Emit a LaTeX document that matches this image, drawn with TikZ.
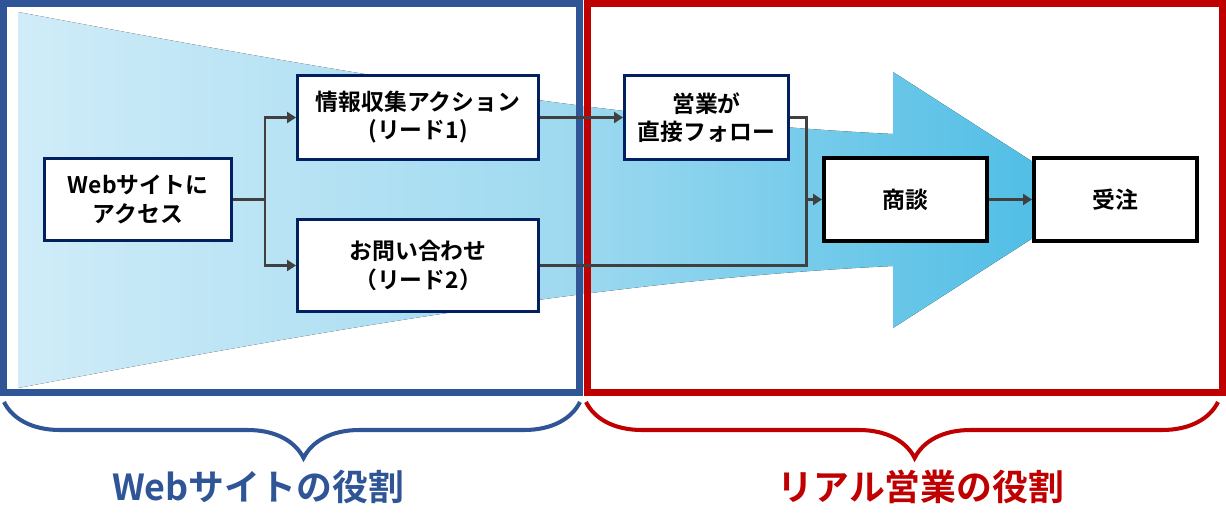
\documentclass[tikz,border=0pt]{standalone}
\usepackage{fontspec}
\setmainfont{Noto Sans CJK JP}[BoldFont={Noto Sans CJK JP Bold}]
\usetikzlibrary{arrows.meta,decorations.pathreplacing}
\definecolor{bleuweb}{RGB}{47,85,151}
\definecolor{rougevente}{RGB}{192,0,0}
\definecolor{marine}{RGB}{0,32,96}
\definecolor{gris}{RGB}{64,64,64}
\definecolor{ciel}{RGB}{208,236,248}
\definecolor{cielmoyen}{RGB}{160,218,240}
\definecolor{azur}{RGB}{72,187,228}
\tikzset{px/.style={x={(0.02cm,0cm)},y={(0cm,-0.02cm)}},
  boite/.style={draw=marine, line width=1.7pt, fill=white, align=center, inner sep=0pt,
    font=\bfseries\fontsize{13}{16}\selectfont},
  boitenoire/.style={boite, draw=black, line width=2.3pt},
  lien/.style={draw=gris, line width=1.7pt},
  fleche/.style={lien, -{Triangle[length=1.8mm,width=2.2mm]}},
  accolade/.style={line width=2.3pt, decorate, decoration={brace, mirror, amplitude=1.12cm, aspect=0.52}},
  role/.style={font=\bfseries\fontsize{20.4}{24}\selectfont}}

\begin{document}
\begin{tikzpicture}[px]
	\useasboundingbox (0,0) rectangle (1226,530);
	% le grand entonnoir en fleche
	\fill[left color=ciel, right color=azur, middle color=cielmoyen]
		(18,12) .. controls (300,65) and (600,120) .. (893,134) -- (893,72) -- (1092,200)
		-- (893,328) -- (893,266) .. controls (600,280) and (300,335) .. (18,388) -- cycle;
	% les deux cadres
	\draw[bleuweb, line width=4pt] (3.5,3.5) rectangle (579.5,392.5);
	\draw[rougevente, line width=4pt] (587.5,3.5) rectangle (1222.5,392.5);
	% les boites
	\node[boite, minimum width=3.74cm, minimum height=1.66cm] (acces) at (138,199.5) {Webサイトに\\アクセス};
	\node[boite, minimum width=4.82cm, minimum height=1.68cm] (lead1) at (418,117.5) {情報収集アクション\\(リード1)};
	\node[boite, minimum width=4.82cm, minimum height=1.84cm] (lead2) at (418,265.5) {お問い合わせ\\（リード2）};
	\node[boite, minimum width=3.28cm, minimum height=1.68cm] (suivi) at (706.5,117.5) {営業が\\直接フォロー};
	\node[boitenoire, minimum width=3.26cm, minimum height=1.66cm] (nego) at (905.5,199.5) {商談};
	\node[boitenoire, minimum width=3.26cm, minimum height=1.66cm] (commande) at (1115.5,199.5) {受注};
	% les liens
	\coordinate (fourche) at (265,199.5);
	\coordinate (jonction) at (806,199.5);
	\draw[lien] (acces.east) -- (fourche);
	\draw[fleche] (fourche) |- (lead1.west);
	\draw[fleche] (fourche) |- (lead2.west);
	\draw[fleche] (lead1.east) -- (suivi.west);
	\draw[lien] (suivi.east) -| (jonction);
	\draw[lien] (lead2.east) -| (jonction);
	\draw[fleche] (jonction) -- (nego.west);
	\draw[fleche] (nego.east) -- (commande.west);
	% les accolades et les roles
	\draw[accolade, bleuweb] (4,402) -- (580,402);
	\draw[accolade, rougevente] (586,402) -- (1218,402);
	\node[role, text=bleuweb] (roleweb) at (258,487) {Webサイトの役割};
	\node[role, text=rougevente] (rolevente) at (921,487) {リアル営業の役割};
\end{tikzpicture}
\end{document}
